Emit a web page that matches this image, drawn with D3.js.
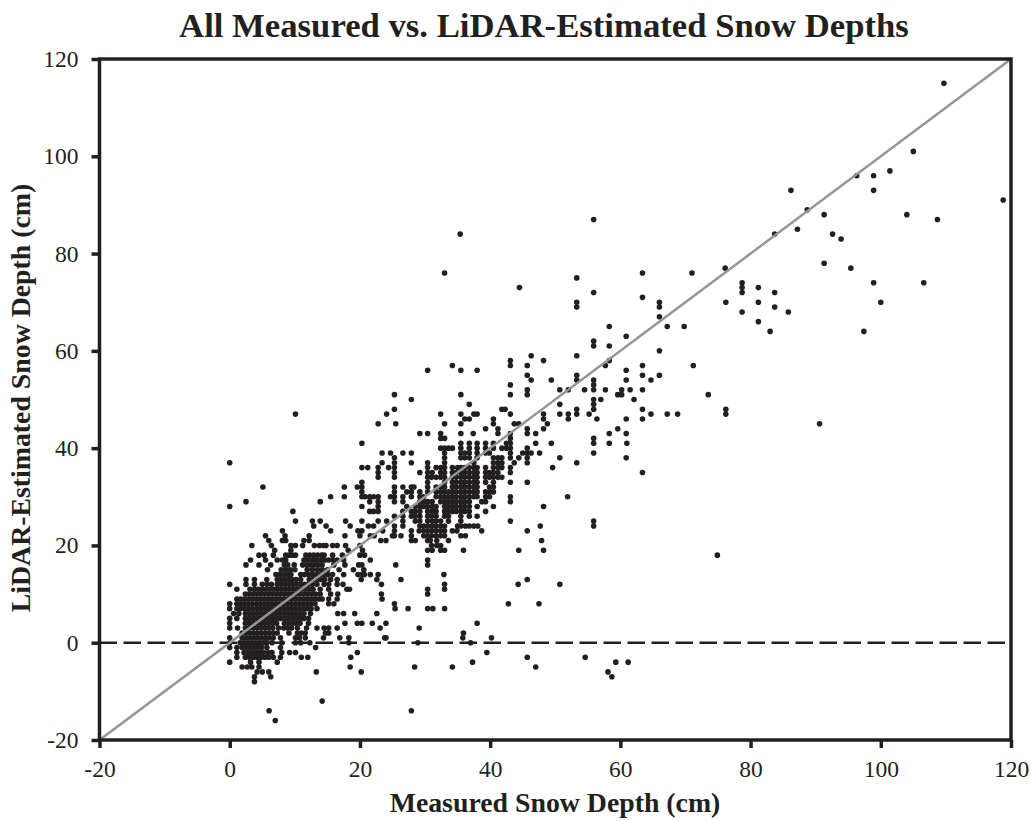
<!DOCTYPE html>
<html>
<head>
<meta charset="utf-8">
<script src="https://cdn.jsdelivr.net/npm/d3@7"></script>
<style>
  html, body { margin: 0; padding: 0; background: #fff; }
  text { font-family: "Liberation Serif", serif; fill: #231f20; }
</style>
</head>
<body>
<div id="chart"></div>
<script>
// x and y limits and tick labels
var xTicks = [-20, 0, 20, 40, 60, 80, 100, 120];
var yTicks = [-20, 0, 20, 40, 60, 80, 100, 120];

// LiDAR depths are whole cm, so points are kept per y level: [lidar, [measured...]]
var highPoints = [
  [115, [109.7]], [101, [105]], [97, [101.4]], [96, [96.3, 98.9]], [93, [86.2, 98.9]], [91, [118.8]],
  [89, [88.7]], [88, [91.3, 104]], [87, [55.9, 108.7]], [85, [87.2]], [84, [35.4, 83.7, 92.6]], [83, [93.9]],
  [78, [91.3]], [77, [76.1, 95.4]], [76, [33, 63.4, 71]], [75, [53.3]], [74, [78.7, 98.9, 106.6]],
  [73, [44.5, 78.7, 81.2]], [72, [55.9, 78.7, 83.7]], [71, [63.4]], [70, [53.3, 66, 76.2, 81.2, 100]],
  [69, [53.3, 66, 83.7]], [68, [78.7, 85.8]], [67, [66]], [66, [81.2]], [65, [58.3, 67.2, 69.8]],
  [64, [83, 97.4]], [63, [60.9]], [62, [55.9]], [61, [55.9, 58.3]], [60, [66]]
];

var midPoints = [
  [59, [46.3, 53.3]], [58, [43.1, 48.2, 58.3]], [57, [34.2, 43.1, 45.7, 57.7, 63.4, 71.2]],
  [56, [30.4, 35.5, 38, 60.9]], [55, [45.7, 53.3, 63.4, 66]], [54, [46.3, 49.4, 53.3, 55.9, 60.9, 64.7]],
  [53, [43.1, 55.9]], [52, [45.7, 50.7, 52, 54.5, 55.9, 57.7, 60.2, 61.5, 63.4]],
  [51, [25.3, 35.5, 43.1, 45.7, 59.6, 60.2, 73.5]], [50, [27.9, 55.9, 57, 62.1]], [49, [36.8, 50.7, 55.9]],
  [48, [25.3, 41.8, 42.3, 53.3, 55.9, 63.4, 76.2]],
  [47, [10.1, 24.1, 32.4, 35.5, 37.5, 38, 43.1, 48.2, 50.7, 52, 53.3, 55.2, 64.7, 67.2, 68.8, 76.2]],
  [46, [36.1, 36.8, 40.5, 48.2, 52, 56.4, 60.9, 63.4]], [45, [22.8, 25.5, 33, 35.5, 40.5, 43.7, 44.4, 48.8, 90.6]],
  [44, [39.3, 41.2, 45.7, 48.2, 59.6]], [43, [29.2, 30.4, 32.4, 35.5, 37.4, 41.2, 43.1, 45.7, 47, 58.3, 60.9]],
  [42, [32.4, 33, 43.1, 55.9]], [41, [20.3, 35.5, 36.8, 38, 39.3, 40.5, 42.5, 43.1, 47, 49.4, 55.9, 58.3, 61]],
  [40, [32.4, 33, 33.6, 34.2, 35.5, 36.8, 38, 39.3, 40.5, 41.8, 42.5, 43.1, 45.7]],
  [39, [23.4, 24.7, 26.6, 27.9, 33, 35.5, 36.1, 36.8, 38, 39.3, 39.9, 43.1, 45, 45.7, 46.3, 47.6, 55.9]],
  [38, [25.3, 33, 35.5, 36.1, 36.8, 38, 40.5, 41.2, 41.8, 43.1, 44.4, 45.7, 50.7, 60.9]],
  [37, [0, 23.4, 25.3, 27.9, 30.4, 33, 37.5, 40.5, 41.2, 41.8, 43.7, 45.7, 53.3]],
  [36, [20.3, 21.2, 22.8, 24.4, 25.3, 30.4, 31.7, 32.4, 33, 34.2, 35, 35.5, 36.1, 36.8, 37.5, 38, 39.3, 40.5, 41.2, 41.8, 43.1, 49.6]],
  [35, [22.8, 25.3, 29.2, 30.4, 31.1, 32.4, 33, 34.2, 34.8, 35.5, 36.1, 36.8, 37.5, 38, 39.3, 39.9, 40.5, 41.2, 43.1, 63.4]],
  [34, [22.8, 25.3, 30.4, 31, 31.7, 32.4, 33, 34.2, 34.8, 35.5, 36.1, 36.8, 37.5, 38, 39.3, 39.9, 40.5, 41.2, 41.8]],
  [33, [20.3, 30.4, 33, 34.2, 34.8, 35.5, 36.1, 36.8, 37.5, 38, 39.3, 40.5, 43.1, 45.7]],
  [32, [5.1, 17.6, 19.6, 20.3, 25.3, 26.6, 27.9, 28.3, 30.4, 31.7, 32.4, 33, 34.2, 34.8, 35.5, 36.1, 36.8, 37.5, 38, 39.9, 40.5]],
  [31, [20.3, 25.3, 27.2, 27.9, 29.2, 30.4, 31.7, 32.4, 33, 33.6, 34.2, 34.8, 35.5, 36.1, 36.8, 37.5, 38, 39.3, 39.9, 40.5]],
  [30, [15.5, 17.6, 20.3, 20.8, 21.5, 22.1, 22.8, 24.7, 25.3, 26.6, 27.9, 29.2, 29.8, 31.7, 32.4, 33, 33.6, 34.2, 34.8, 35.5, 36.1, 36.8, 37.5, 38, 39.3, 39.9, 43.1, 51.9]],
  [29, [2.5, 13.9, 21.5, 22.8, 25.3, 26.6, 29.2, 29.8, 30.4, 31.1, 32.4, 33, 33.6, 34.2, 34.8, 35.5, 36.1, 36.8, 38.7, 39.3, 43.1]],
  [28, [0, 20.3, 22.8, 27.2, 28.5, 29.2, 29.8, 30.4, 31.1, 31.7, 33, 33.6, 34.2, 34.8, 35.5, 36.1, 36.8, 38, 40.5, 48.2]],
  [27, [9.7, 21.5, 22.1, 22.8, 26.6, 27.9, 28.5, 29.2, 30.4, 31.1, 31.7, 33, 33.6, 34.2, 34.8, 35.5, 36.1, 36.8, 39.3]],
  [26, [25.3, 26.6, 27.9, 28.5, 29.2, 30.4, 31, 31.7, 33, 33.6, 35.5, 36.8, 38]],
  [25, [10.1, 12.7, 13.9, 17.8, 20.3, 22.8, 24.1, 26.6, 28.5, 29.2, 30.4, 31.1, 31.7, 32.4, 33.6, 35.5, 43.1, 55.9]],
  [24, [12.9, 14.8, 18.5, 21.3, 22.1, 25.3, 26.6, 29.2, 29.8, 30.4, 31.1, 31.7, 32.4, 33, 35, 35.5, 36.2, 36.8, 37.5, 38.1, 47.7, 55.9]],
  [23, [8.1, 15.5, 19.7, 20.3, 23.5, 25.3, 27.9, 29.1, 29.8, 30.4, 31, 31.7, 32.4, 33, 34.2, 34.9, 38.7, 45.7]],
  [22, [5.5, 8.5, 12.2, 17.7, 20, 21.6, 22.2, 25, 25.3, 26.3, 27.9, 29.8, 30.4, 31, 31.7, 32.4, 33, 35.5, 36.2]],
  [21, [6, 8.1, 8.6, 11.4, 12.2, 23.2, 24, 27.9, 28.5, 30.4, 30.8, 31.8, 33.6, 47.9]],
  [20, [3.4, 6.4, 9.4, 10.1, 11.2, 13, 13.8, 14.4, 14.8, 15.8, 16.5, 17.8, 20, 31, 31.8, 32.4]],
  [19, [6.9, 9.4, 18.2, 20.4, 30.4, 31.1, 32.4, 33, 35.9, 44.4, 48.2]]
];

var lowPoints = [
  [18, [4.5, 5.3, 6.7, 8.6, 9.1, 9.6, 10.1, 11.7, 12.3, 12.9, 13.5, 14.1, 14.5, 15.8, 17.3, 20, 20.7, 74.9]],
  [17, [3.2, 5.5, 7.3, 8.1, 8.6, 11.4, 12, 12.7, 13.3, 14, 14.6, 15.2, 15.9, 16.5, 17.5, 21.6, 30.4]],
  [16, [2.5, 4.5, 6.3, 8.4, 8.9, 9.9, 11.2, 11.8, 12.4, 13, 13.6, 14.2, 16, 17.7, 19.8, 20.3, 25.5, 30.4]],
  [15, [5.8, 7.9, 8.6, 9.3, 10, 11.9, 12.7, 13.5, 14.2, 15, 16.8, 19, 20.6]],
  [14, [7.1, 7.7, 8.3, 8.9, 9.4, 10.9, 11.5, 12.1, 12.7, 13.3, 13.9, 14.5, 15.1, 15.8, 17.5, 19.7, 20.3, 20.7, 21.6, 22.8, 32.9]],
  [13, [2.5, 3.8, 5.7, 7.3, 7.9, 8.5, 9.1, 9.6, 10.2, 10.9, 12.2, 12.8, 13.4, 14, 14.6, 15.5, 16.5, 20.2, 22.6, 26.3, 45.7]],
  [12, [0, 2.5, 3.8, 5, 5.7, 6.4, 7.3, 7.9, 8.5, 9.1, 9.7, 10.3, 10.9, 11.5, 12.1, 12.7, 13.4, 14.5, 15.2, 16.5, 17.4, 23.3, 33, 44.3, 50.7]],
  [11, [1.1, 3.1, 3.8, 4.4, 5, 5.6, 6.2, 6.8, 7.4, 8, 8.6, 9.2, 9.8, 10.4, 11, 11.6, 12.2, 12.8, 13.9, 15.2, 18, 18.4, 30.4, 33]],
  [10, [2.4, 3, 3.6, 4.2, 4.8, 5.4, 6, 6.6, 7.2, 7.8, 8.4, 9, 9.6, 10.2, 10.8, 11.4, 12, 12.6, 13.2, 13.9, 15.5, 16.6, 23.3, 30.4]],
  [9, [1.1, 1.7, 2.3, 2.9, 3.5, 4.1, 4.7, 5.3, 5.9, 6.5, 7.1, 7.7, 8.3, 8.9, 9.5, 10.1, 10.7, 11.3, 11.9, 12.5, 13.1, 13.7, 14.2, 15.2, 16.5, 23.4]],
  [8, [0, 1.1, 1.7, 2.3, 2.9, 3.5, 4.1, 4.7, 5.3, 5.9, 6.5, 7.1, 7.7, 8.3, 8.9, 9.5, 10.1, 10.7, 11.3, 11.9, 12.5, 13.1, 15.2, 16, 25.3, 42.8, 47.5]],
  [7, [0, 1.1, 1.7, 2.3, 2.9, 3.5, 4.1, 4.7, 5.3, 5.9, 6.5, 7.1, 7.7, 8.3, 8.9, 9.5, 10.1, 10.7, 11.3, 11.9, 12.5, 13.4, 25.4, 27.4, 30.4, 31.2, 33]],
  [6, [0.6, 1.4, 2.4, 3, 3.6, 4.2, 4.8, 5.4, 6, 6.6, 7.2, 7.8, 8.4, 9, 9.6, 10.2, 10.8, 11.4, 12.4, 16.6, 17.5, 19.2, 22.6]],
  [5, [0, 1.1, 2.4, 3, 3.6, 4.2, 4.8, 5.4, 6, 6.6, 7.2, 7.8, 8.4, 9, 9.6, 10.2, 10.8, 11.4, 12.1]],
  [4, [0, 2.4, 3, 3.6, 4.2, 4.8, 5.4, 6, 6.6, 7.2, 8.4, 9, 9.6, 10.2, 10.8, 12.1, 17.7, 19.6, 20.3, 21.9, 24, 38]],
  [3, [0, 1.2, 2.4, 3, 3.6, 4.2, 4.8, 5.4, 6, 6.6, 7.5, 8.3, 8.9, 9.5, 10.4, 11.8, 13.4, 14.5, 15.2, 16.5, 23.1, 29.1]],
  [2, [1.9, 2.5, 3.1, 3.7, 4.3, 4.9, 5.5, 6.1, 6.7, 7.3, 9.1, 10.4, 11, 11.6, 14.7, 15.2, 35.9]],
  [1, [0, 1.9, 2.5, 3.1, 3.7, 4.3, 4.9, 5.5, 6.1, 6.7, 7.8, 10.1, 10.7, 11.6, 14.4, 16.9, 18.3, 23.8, 24, 35.8, 40.2]],
  [0, [0, 1.6, 2.2, 2.8, 3.4, 4, 4.6, 5.2, 5.7, 6.5, 8, 10.1, 10.9, 12.3, 18.3, 28.9, 37]],
  [-1, [0, 1.1, 1.9, 2.5, 3.1, 3.7, 4.3, 4.9, 5.7, 7.8, 13.2]],
  [-2, [1.1, 2.2, 2.8, 3.4, 4, 4.6, 5.2, 5.9, 6.5, 8, 9.2, 10.1, 19.6, 39.5]],
  [-3, [1.1, 2.4, 3, 3.6, 4.2, 4.8, 5.4, 6, 6.7, 7.8, 11, 12, 18.6, 45.7, 54.6]],
  [-4, [0, 3.2, 4.5, 7.3, 37.3, 59.3, 61.2]],
  [-5, [1.9, 2.7, 3.4, 4.5, 18.5, 28.4, 34.2, 47]],
  [-6, [4.2, 5, 6, 13.3, 20.2, 58.1]],
  [-7, [3.8, 6.3, 58.7]],
  [-8, [3.8]],
  [-12, [14.2]],
  [-14, [6.05, 27.9]],
  [-16, [7]]
];

var width = 1031, height = 821;
var inkColor = '#231f20';

var x = d3.scaleLinear().domain([-20, 120]).range([99.5, 1011]);
var y = d3.scaleLinear().domain([-20, 120]).range([740, 59]);

var svg = d3.select('#chart')
  .append('svg')
  .attr('width', width)
  .attr('height', height)
  .style('display', 'block');

// flatten the rows into [measured, lidar]
var points = [];
highPoints.concat(midPoints, lowPoints).forEach(function (row) {
  row[1].forEach(function (m) { points.push([m, row[0]]); });
});

svg.append('g')
  .selectAll('circle')
  .data(points)
  .enter()
  .append('circle')
  .attr('cx', function (d) { return x(d[0]); })
  .attr('cy', function (d) { return y(d[1]); })
  .attr('r', 2.8)
  .attr('fill', inkColor);

// dashed zero line
svg.append('line')
  .attr('x1', x(-20)).attr('x2', x(120))
  .attr('y1', y(0)).attr('y2', y(0))
  .attr('stroke', inkColor)
  .attr('stroke-width', 2.4)
  .attr('stroke-dasharray', '17.5,6.5');

// 1:1 line
svg.append('line')
  .attr('x1', x(-20)).attr('y1', y(-20))
  .attr('x2', x(120)).attr('y2', y(120))
  .attr('stroke', '#939598')
  .attr('stroke-width', 2.5);

// frame, right and top sides have no ticks
svg.append('rect')
  .attr('x', x(-20)).attr('y', y(120))
  .attr('width', x(120) - x(-20))
  .attr('height', y(-20) - y(120))
  .attr('fill', 'none')
  .attr('stroke', inkColor)
  .attr('stroke-width', 3.5);

// hyphen instead of d3's minus sign, as in the original
var tickLabel = function (d) { return String(d); };

var xAxis = svg.append('g')
  .attr('transform', 'translate(0,' + y(-20) + ')')
  .call(d3.axisBottom(x).tickValues(xTicks).tickSize(8).tickPadding(12).tickFormat(tickLabel));

var yAxis = svg.append('g')
  .attr('transform', 'translate(' + x(-20) + ',0)')
  .call(d3.axisLeft(y).tickValues(yTicks).tickSize(8).tickPadding(13).tickFormat(tickLabel));

[xAxis, yAxis].forEach(function (a) {
  a.select('.domain').remove();
  a.selectAll('line').attr('stroke', inkColor).attr('stroke-width', 3.5);
  a.selectAll('text')
    .attr('font-size', 23.5)
    .style('font-family', '"Liberation Serif", serif')
    .attr('fill', inkColor);
});

svg.append('text')
  .attr('x', 544).attr('y', 37)
  .attr('text-anchor', 'middle')
  .attr('font-size', 34.7)
  .attr('font-weight', 'bold')
  .text('All Measured vs. LiDAR-Estimated Snow Depths');

svg.append('text')
  .attr('x', 555).attr('y', 812)
  .attr('text-anchor', 'middle')
  .attr('font-size', 27.8)
  .attr('font-weight', 'bold')
  .text('Measured Snow Depth (cm)');

svg.append('text')
  .attr('transform', 'translate(30,398) rotate(-90)')
  .attr('text-anchor', 'middle')
  .attr('font-size', 27.8)
  .attr('font-weight', 'bold')
  .text('LiDAR-Estimated Snow Depth (cm)');
</script>
</body>
</html>
